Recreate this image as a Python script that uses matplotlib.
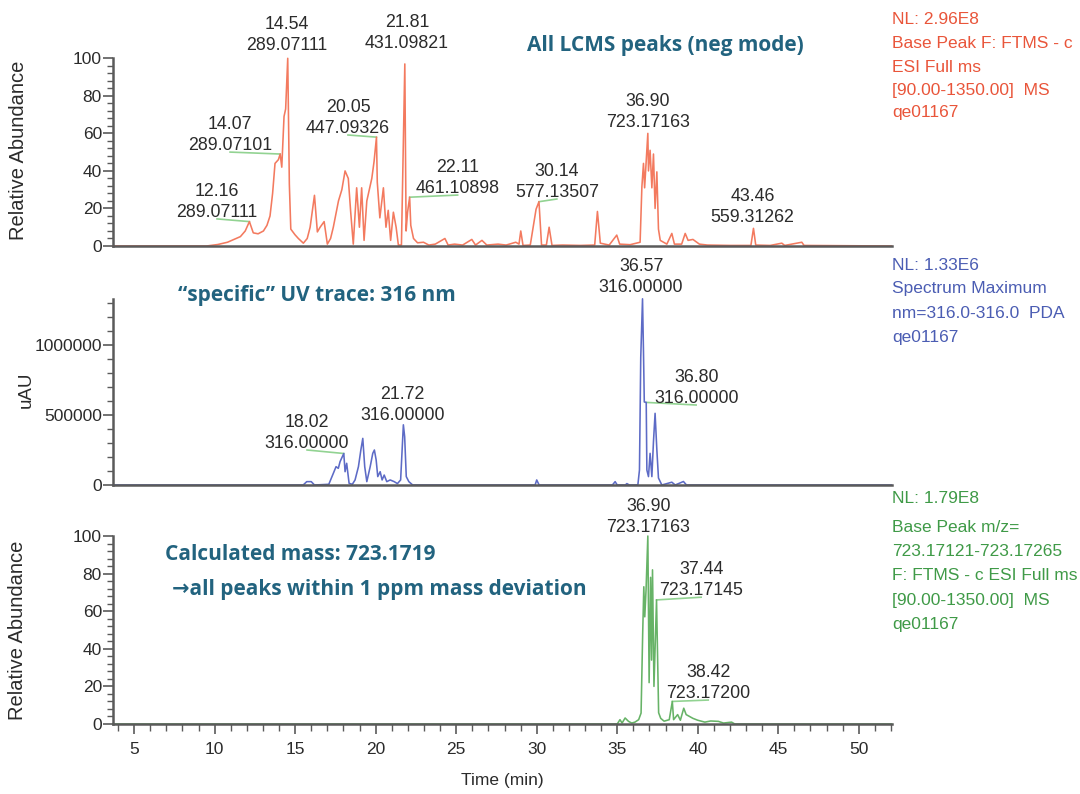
import numpy as np
import matplotlib
matplotlib.use("Agg")
import matplotlib.pyplot as plt
from matplotlib.ticker import MultipleLocator, FuncFormatter

plt.rcParams['font.family'] = ['Liberation Sans', 'DejaVu Sans']

# ---- base peak chromatogram (neg mode), relative abundance ----
ms_time = [3.69, 9.5, 10.2, 10.8, 11.2, 11.6, 11.9, 12.16, 12.4, 12.7, 13.03, 13.25, 13.44, 13.6,
           13.75, 13.96, 14.07, 14.17, 14.31, 14.41, 14.54, 14.64, 14.73, 14.99, 15.2, 15.51, 15.75,
           15.93, 16.2, 16.38, 16.55, 16.8, 17.0, 17.2, 17.37, 17.55, 17.69, 17.9, 18.1, 18.3, 18.45,
           18.61, 18.82, 18.99, 19.13, 19.28, 19.45, 19.76, 19.9, 20.05, 20.1, 20.26, 20.48, 20.64,
           20.78, 20.93, 21.1, 21.27, 21.41, 21.6, 21.81, 21.89, 21.98, 22.11, 22.18, 22.35, 22.6,
           22.97, 23.3, 23.7, 24.3, 24.5, 24.9, 25.4, 25.97, 26.2, 26.6, 26.9, 27.6, 28.1, 28.7, 28.9,
           29.01, 29.15, 29.6, 29.96, 30.14, 30.3, 30.6, 30.77, 30.95, 31.6, 32.7, 33.6, 33.77, 33.95,
           34.5, 34.97, 35.15, 35.8, 36.42, 36.53, 36.63, 36.7, 36.9, 36.94, 37.04, 37.15, 37.25,
           37.35, 37.46, 37.56, 37.67, 38.08, 38.39, 38.55, 39.0, 39.22, 39.4, 39.7, 40.1, 40.6,
           42.0, 43.3, 43.46, 43.6, 44.5, 45.22, 45.4, 46.46, 46.6, 52.03]
ms_abund = [0, 0, 0.8, 2, 3.5, 5, 8, 13, 7, 6.5, 8, 11, 16, 28,
            44, 46, 49, 42, 69, 73, 100, 33, 9, 6, 4, 1.5, 4,
            10, 27, 7.5, 10, 13, 1, 4, 10, 18, 24, 30, 40, 36, 18,
            1, 31, 10, 31, 3, 24, 36, 45, 58, 34, 15, 31, 10,
            19, 3, 18, 10, 0.5, 0.5, 97, 8, 18, 26, 11, 4, 1.7,
            2, 0.5, 1, 4, 0.5, 1, 0.5, 3.5, 0.5, 3, 0.5, 1, 0.5, 2, 1,
            8, 0.3, 0.5, 19.6, 23.6, 0.5, 0.5, 10, 0.3, 0.5, 0.3, 0.5, 18.4, 1.5,
            0.5, 5.8, 1, 0.7, 2, 31.5, 44, 31, 60, 40, 51, 31, 49,
            20, 39.5, 9, 3, 1, 6.7, 1, 1, 6.7, 3, 3.5, 1, 0.5,
            0.3, 0.3, 9.4, 0.5, 0.3, 1.5, 0.3, 2, 0.3, 0]
ms_peak_rt = [12.16, 14.07, 14.54, 20.05, 21.81, 22.11, 30.14, 36.90, 43.46]
ms_peak_mz = ["289.07111", "289.07101", "289.07111", "447.09326", "431.09821",
              "461.10898", "577.13507", "723.17163", "559.31262"]

# ---- UV trace at 316 nm (uAU) ----
uv_time = [3.69, 15.5, 15.72, 16.0, 16.2, 17.09, 17.37, 17.54, 17.68, 17.79, 18.02, 18.1, 18.2,
           18.35, 18.55, 18.72, 18.93, 19.08, 19.2, 19.32, 19.45, 19.66, 19.82, 19.92, 20.03,
           20.13, 20.28, 20.4, 20.53, 20.69, 20.9, 21.15, 21.35, 21.55, 21.72, 21.8, 21.9, 22.06,
           22.3, 29.9, 30.0, 30.15, 34.7, 34.87, 35.0, 35.5, 35.6, 35.75, 36.28, 36.38, 36.46,
           36.57, 36.63, 36.68, 36.8, 36.84, 36.94, 37.04, 37.15, 37.25, 37.35, 37.46, 37.56,
           37.77, 38.39, 38.6, 39.11, 39.3, 39.94, 52.03]
uv_abs = [0, 0, 24000, 24000, 0, 5000, 83000, 131000, 119000, 167000, 225000, 95000, 155000,
          12000, 5000, 36000, 131000, 250000, 333000, 131000, 24000, 131000, 226000, 250000, 179000,
          60000, 95000, 36000, 71000, 24000, 36000, 24000, 10000, 36000, 430000, 345000, 60000, 24000,
          0, 0, 36000, 0, 0, 24000, 0, 0, 10000, 0, 0, 107000, 912000,
          1330000, 950000, 593000, 590000, 107000, 60000, 226000, 60000, 310000, 512000, 250000, 50000,
          0, 20000, 0, 25000, 0, 0, 0]
uv_peak_rt = [18.02, 21.72, 36.57, 36.80]
uv_peak_nm = ["316.00000", "316.00000", "316.00000", "316.00000"]

# ---- extracted ion chromatogram m/z 723.1712-723.1727 ----
eic_time = [3.69, 35.0, 35.17, 35.3, 35.49, 35.7, 35.9, 36.1, 36.33, 36.48, 36.58, 36.65, 36.71,
            36.79, 36.90, 36.98, 37.07, 37.13, 37.19, 37.28, 37.36, 37.44, 37.57, 37.7, 37.91,
            38.23, 38.42, 38.5, 38.75, 38.92, 39.13, 39.28, 39.49, 39.7, 40.0, 40.44, 40.8, 41.28,
            41.6, 42.1, 42.3, 52.03]
eic_abund = [0, 0, 2.3, 0.5, 3.2, 1.4, 0.5, 1, 2.3, 5.8, 48, 73, 57,
             71.5, 100, 22, 78, 34, 82, 20, 43, 66, 6, 3, 1.5,
             2.3, 12, 2.3, 5, 2, 8.4, 5, 4, 3, 2, 1, 1.6, 1.4,
             0.5, 1, 0, 0]
eic_peak_rt = [36.90, 37.44, 38.42]
eic_peak_mz = ["723.17163", "723.17145", "723.17200"]

# label anchors (bottom centre of each two-line label) and whether a leader line is drawn
ms_label_pos = [(10.15, 15.5, True), (10.96, 51.1, True), (14.50, 104.4, False),
                (18.28, 60.2, True), (21.95, 105.5, False), (25.09, 28.2, True),
                (31.25, 26.1, True), (36.89, 63.4, False), (43.41, 12.8, False)]
uv_label_pos = [(15.74, 264300, True), (21.67, 464300, False),
                (36.48, 1378600, False), (39.90, 585700, True)]
eic_label_pos = [(36.92, 102, False), (40.21, 68.5, True), (40.65, 13.8, True)]

W, H = 1080, 794
fig = plt.figure(figsize=(W / 100, H / 100), dpi=100)

axis_col = '#5a5a5a'
text_col = '#2b2b2b'
lead_col = '#92d392'
title_col = '#22637f'
xmin, xmax = 3.69, 52.03
left, width = 113 / W, (891.5 - 113) / W

ax1 = fig.add_axes([left, 1 - 246 / H, width, (246 - 58.3) / H])
ax2 = fig.add_axes([left, 1 - 485 / H, width, (485 - 298.8) / H])
ax3 = fig.add_axes([left, 1 - 724 / H, width, (724 - 536) / H])


def style(ax, bottom_ticks):
    for s in ('top', 'right'):
        ax.spines[s].set_visible(False)
    for s in ('left', 'bottom'):
        ax.spines[s].set_color(axis_col)
        ax.spines[s].set_linewidth(1.8)
    ax.set_xlim(xmin, xmax)
    ax.tick_params(axis='y', which='major', direction='out', length=7, width=1.2,
                   color=axis_col, labelsize=12.5, labelcolor=text_col, pad=1)
    ax.tick_params(axis='y', which='minor', direction='out', length=4, width=1.0, color=axis_col)
    if bottom_ticks:
        ax.xaxis.set_major_locator(MultipleLocator(5))
        ax.xaxis.set_minor_locator(MultipleLocator(1))
        ax.tick_params(axis='x', which='major', direction='out', length=7, width=1.2,
                       color=axis_col, labelsize=12.5, labelcolor=text_col, pad=6)
        ax.tick_params(axis='x', which='minor', direction='out', length=5, width=1.0, color=axis_col)
        ax.set_xticks(np.arange(5, 51, 5))
    else:
        ax.tick_params(axis='x', which='both', bottom=False, labelbottom=False)


def peak_labels(ax, rts, second, pos, tr, tv, color):
    for rt, txt, (tx, ty, lead) in zip(rts, second, pos):
        ax.text(tx, ty, f"{rt:.2f}\n{txt}", ha='center', va='baseline', fontsize=12.8,
                color=text_col, linespacing=1.3, clip_on=False)
        if lead:
            h = np.interp(rt, tr, tv)
            px, py = ax.transData.transform((tx, ty))
            ex, ey = ax.transData.inverted().transform((px, py - 2))
            ax.plot([rt, ex], [h, ey], color=color, lw=1.2, clip_on=False, zorder=1)


# top: base peak chromatogram
style(ax1, False)
ax1.plot(ms_time, ms_abund, color='#f37a5f', lw=1.15, clip_on=False)
ax1.set_ylim(0, 100)
ax1.yaxis.set_major_locator(MultipleLocator(20))
ax1.yaxis.set_minor_locator(MultipleLocator(4))
peak_labels(ax1, ms_peak_rt, ms_peak_mz, ms_label_pos, ms_time, ms_abund, lead_col)

# middle: UV trace
style(ax2, False)
ax2.plot(uv_time, uv_abs, color='#5d6bc6', lw=1.15, clip_on=False)
ax2.set_ylim(0, 1330000)
ax2.yaxis.set_major_locator(MultipleLocator(500000))
ax2.yaxis.set_minor_locator(MultipleLocator(100000))
ax2.yaxis.set_major_formatter(FuncFormatter(lambda v, p: f"{int(v)}"))
peak_labels(ax2, uv_peak_rt, uv_peak_nm, uv_label_pos, uv_time, uv_abs, lead_col)

# bottom: extracted ion chromatogram
style(ax3, True)
ax3.plot(eic_time, eic_abund, color='#67b367', lw=1.15, clip_on=False)
ax3.set_ylim(0, 100)
ax3.yaxis.set_major_locator(MultipleLocator(20))
ax3.yaxis.set_minor_locator(MultipleLocator(4))
peak_labels(ax3, eic_peak_rt, eic_peak_mz, eic_label_pos, eic_time, eic_abund, lead_col)

# axis titles
fig.text(19 / W, 1 - 150 / H, 'Relative Abundance', rotation=90, ha='center', va='center',
         fontsize=14.5, color=text_col)
fig.text(26 / W, 1 - 390 / H, 'uAU', rotation=90, ha='center', va='center',
         fontsize=13.5, color=text_col)
fig.text(18 / W, 1 - 630 / H, 'Relative Abundance', rotation=90, ha='center', va='center',
         fontsize=14.5, color=text_col)
fig.text(502 / W, 1 - 780 / H, 'Time (min)', ha='center', va='center', fontsize=12.5, color=text_col)

# trace descriptions on the right
info = [
    ('#e9553a', [('NL: 2.96E8', 20), ('Base Peak F: FTMS - c', 43.5), ('ESI Full ms', 67),
                 ('[90.00-1350.00]  MS', 90), ('qe01167', 113)]),
    ('#4b5db3', [('NL: 1.33E6', 266), ('Spectrum Maximum', 289), ('nm=316.0-316.0  PDA', 313),
                 ('qe01167', 337)]),
    ('#3f9a47', [('NL: 1.79E8', 498.5), ('Base Peak m/z=', 527), ('723.17121-723.17265', 552),
                 ('F: FTMS - c ESI Full ms', 575), ('[90.00-1350.00]  MS', 600), ('qe01167', 624)]),
]
for col, lines in info:
    for s, y in lines:
        fig.text(892 / W, 1 - y / H, s, ha='left', va='center', fontsize=12.5, color=col)

# panel captions
cap = dict(color=title_col, fontsize=15, fontweight='bold', family=['Open Sans', 'DejaVu Sans'])
fig.text(665.5 / W, 1 - 46 / H, 'All LCMS peaks (neg mode)', ha='center', va='center', **cap)
fig.text(317 / W, 1 - 295 / H, '\u201cspecific\u201d UV trace: 316 nm', ha='center', va='center', **cap)
fig.text(165 / W, 1 - 555 / H, 'Calculated mass: 723.1719', ha='left', va='center', **cap)
fig.text(172 / W, 1 - 590 / H, '\u2192all peaks within 1 ppm mass deviation', ha='left', va='center', **cap)

fig.savefig('out.png', dpi=100)
